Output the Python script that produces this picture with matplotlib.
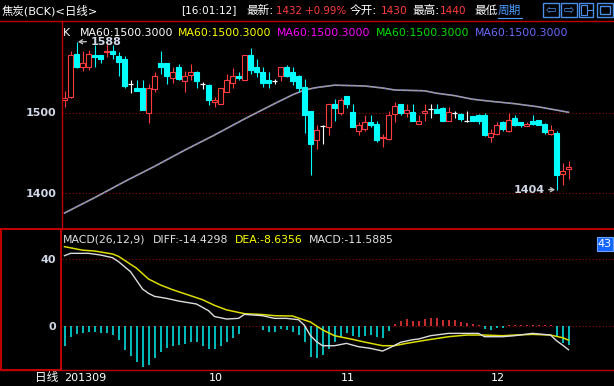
import numpy as np
import matplotlib
matplotlib.use('Agg')
import matplotlib.pyplot as plt
from matplotlib.patches import Rectangle

W, H = 614, 386

# daily candles, index 0 = first day shown (2013-09)
opens = [1516, 1519, 1573, 1557, 1557, 1571, 1571, 1575, 1577, 1570,
         1567, 1536, 1531, 1530, 1500, 1529, 1561, 1561, 1543, 1556,
         1539, 1547, 1550, 1536, 1534, 1513, 1511, 1526, 1537, 1546,
         1540, 1571, 1556, 1550, 1540, 1539, 1545, 1556, 1550, 1546,
         1532, 1502, 1466, 1483, 1482, 1510, 1500, 1520, 1500, 1477,
         1479, 1488, 1486, 1468, 1467, 1498, 1510, 1500, 1501, 1486,
         1500, 1504, 1504, 1506, 1490, 1500, 1498, 1490, 1496, 1497,
         1497, 1469, 1473, 1488, 1477, 1493, 1488, 1483, 1490, 1491,
         1486, 1473, 1474, 1423, 1430]
highs = [1527, 1576, 1588, 1577, 1578, 1584, 1572, 1585, 1584, 1575,
         1570, 1540, 1540, 1540, 1536, 1550, 1576, 1561, 1556, 1560,
         1552, 1560, 1552, 1538, 1535, 1519, 1531, 1548, 1555, 1550,
         1572, 1580, 1566, 1556, 1550, 1542, 1557, 1559, 1556, 1547,
         1542, 1502, 1484, 1484, 1510, 1517, 1518, 1521, 1511, 1488,
         1497, 1497, 1490, 1473, 1502, 1513, 1511, 1511, 1511, 1497,
         1510, 1511, 1510, 1507, 1507, 1502, 1500, 1502, 1496, 1498,
         1500, 1479, 1488, 1490, 1500, 1497, 1488, 1488, 1497, 1491,
         1487, 1484, 1477, 1437, 1440]
lows = [1507, 1518, 1555, 1552, 1553, 1556, 1561, 1569, 1567, 1546,
        1530, 1524, 1527, 1503, 1487, 1526, 1548, 1536, 1537, 1540,
        1526, 1540, 1531, 1529, 1509, 1507, 1510, 1525, 1531, 1540,
        1540, 1548, 1544, 1532, 1531, 1535, 1539, 1544, 1534, 1526,
        1474, 1422, 1455, 1461, 1472, 1490, 1497, 1506, 1482, 1472,
        1477, 1482, 1463, 1457, 1466, 1488, 1497, 1495, 1489, 1486,
        1489, 1493, 1499, 1489, 1489, 1493, 1489, 1488, 1489, 1486,
        1471, 1463, 1472, 1477, 1476, 1483, 1482, 1483, 1484, 1485,
        1473, 1472, 1404, 1410, 1417]
closes = [1518, 1571, 1557, 1561, 1573, 1569, 1567, 1577, 1573, 1563,
          1533, 1536, 1527, 1503, 1530, 1546, 1557, 1546, 1550, 1542,
          1546, 1550, 1539, 1536, 1516, 1516, 1530, 1541, 1546, 1543,
          1571, 1553, 1550, 1537, 1537, 1539, 1556, 1546, 1539, 1531,
          1497, 1461, 1478, 1483, 1510, 1506, 1516, 1510, 1482, 1484,
          1488, 1485, 1466, 1470, 1497, 1508, 1500, 1503, 1490, 1490,
          1502, 1504, 1500, 1489, 1500, 1500, 1492, 1490, 1490, 1489,
          1472, 1475, 1484, 1479, 1491, 1485, 1485, 1486, 1486, 1485,
          1476, 1478, 1422, 1427, 1432]

# MA60 at a few days
ma_idx = [0, 5, 10, 15, 20, 25, 30, 35, 38, 40, 42, 45, 50, 53, 55,
          60, 62, 65, 68, 71, 75, 79, 82, 84]
ma_val = [1375, 1394, 1414, 1433, 1453, 1472, 1492, 1511, 1522, 1528,
          1531, 1534, 1533, 1530.5, 1528, 1527, 1524, 1521, 1516.5, 1514,
          1511, 1507, 1503, 1500.3]

# MACD panel
macd_bar = [-12, -6.6, -5.2, -4.6, -4, -3.6, -4.6, -4.6, -5.6, -8.6,
            -14.6, -18, -21.6, -24.6, -23.6, -19.6, -15.6, -13.6, -12, -11.6,
            -11.2, -9.6, -10, -12, -14, -14, -12, -9.6, -7.2, -5.2,
            -0.3, -0.4, -0.3, -2.6, -4, -3.6, -2, -2.6, -3.6, -5.6,
            -9.6, -18.6, -19.2, -17.6, -14, -10, -6.6, -4.6, -6, -6.6,
            -6, -5.6, -6.6, -7.2, -3.2, 0.8, 2.8, 4, 2.8, 2.8,
            4, 4.8, 4.8, 3.4, 3.4, 3.4, 2, 1.4, 1, 0.6,
            -2, -2.6, -1.6, -1.6, 0.4, 0.4, 0.6, 0.6, 0.4, 0.6,
            0.4, 0.2, -6.6, -10.6, -11.59]
diff_idx = [0, 1, 3, 4, 6, 8, 9, 11, 13, 14, 15, 17, 19, 22, 24, 25, 27, 29,
            30, 33, 35, 37, 39, 40, 41, 42, 43, 45, 47, 49, 51, 53, 54, 56,
            58, 59, 61, 64, 67, 69, 70, 73, 75, 78, 81, 82, 83, 84]
diff_val = [42, 43.4, 43.4, 43.4, 42.4, 40.8, 38.4, 32.4, 22, 19.4, 17.6, 16.4,
            14.8, 13, 9, 5.5, 4, 4.4, 6.8, 6, 4.4, 4.4, 3.6, 0.2, -6, -9.5,
            -12, -12, -10.6, -12.6, -13.6, -15.2, -13.6, -10, -8.4, -8, -6,
            -4.6, -4.6, -4.6, -6.6, -6.6, -6, -4.6, -5.6, -9, -11.6, -14.43]
dea_idx = [0, 3, 5, 8, 9, 12, 14, 16, 18, 20, 23, 25, 27, 30, 33, 35, 38, 39,
           41, 43, 45, 48, 50, 53, 55, 57, 60, 64, 67, 70, 73, 75, 78, 81, 83, 84]
dea_val = [47.4, 45.3, 44.8, 43, 41.6, 34.5, 28, 24.4, 21.6, 19.2, 15.6, 12.2,
           9.5, 7.2, 6.7, 6, 5.8, 4.6, 2.2, -2.5, -6, -8.2, -9.8, -12, -12,
           -10.6, -8.8, -6.6, -5.6, -5.6, -6, -5.6, -5.2, -5.6, -7.2, -8.64]

month_pos = [0, 24, 46, 71]
month_labels = ['201309', '10', '11', '12']

UP = '#ff3c3c'
DOWN = '#00ffff'
FLAT = '#ffffff'
FRAME = '#c00000'
GRID = '#900000'
LABEL = '#d0d8e8'
CJK = ['DejaVu Sans', 'Noto Sans CJK SC']

plt.rcParams['font.family'] = CJK

fig = plt.figure(figsize=(W / 100, H / 100), dpi=100, facecolor='black')


def box(x0, y0, x1, y1):
    # pixel box (top-left origin) -> figure rect
    return [x0 / W, 1 - y1 / H, (x1 - x0) / W, (y1 - y0) / H]


# ---- candle panel
ax_k = fig.add_axes(box(62, 21, 614, 228))
ax_k.set_facecolor('black')
n = len(opens)
x = np.arange(n)
o = np.array(opens, float)
c = np.array(closes, float)
ax_k.set_xlim((62 - 64.5) / 6, (614 - 64.5) / 6)
ax_k.set_ylim(1500 - (228 - 112.5) / 0.804, 1500 + (112.5 - 21) / 0.804)

cols = [UP if cc > oo else (DOWN if cc < oo else FLAT) for oo, cc in zip(opens, closes)]
ax_k.vlines(x, lows, highs, colors=cols, lw=0.8, zorder=3)
body = c != o
ax_k.bar(x[body], np.abs(c - o)[body], bottom=np.minimum(o, c)[body], width=0.78,
         color=['black' if cols[i] == UP else cols[i] for i in x[body]],
         edgecolor=[cols[i] for i in x[body]], linewidth=0.8, zorder=4)
flat = ~body
ax_k.hlines(o[flat], x[flat] - 0.4, x[flat] + 0.4, colors=FLAT, lw=0.9, zorder=4)

ax_k.plot(ma_idx, ma_val, color='#a0a0a0', lw=1.2, zorder=2)
ax_k.plot(ma_idx, ma_val, color='#7474e0', lw=1.0, ls=(0, (1, 3)), zorder=2)

for lv in (1400, 1500):
    ax_k.axhline(lv, color=GRID, lw=0.8, ls=(0, (1, 2)), zorder=1)

ax_k.set_yticks([1400, 1500])
ax_k.set_yticklabels(['1400', '1500'], color=LABEL, fontsize=8, fontweight='bold')
ax_k.tick_params(axis='y', length=0, pad=4)
ax_k.set_xticks([])
for s in ax_k.spines.values():
    s.set_visible(False)

i_hi = int(np.argmax(highs))
i_lo = int(np.argmin(lows))
arrow = dict(arrowstyle='->,head_length=0.3,head_width=0.18', color='#bfbfbf', lw=1,
             shrinkA=1, shrinkB=1)
ax_k.annotate('%d' % highs[i_hi], xy=(i_hi, highs[i_hi]), xytext=(14, 0),
              textcoords='offset pixels', ha='left', va='center', color=LABEL,
              fontsize=8, fontweight='bold', arrowprops=arrow)
ax_k.annotate('%d' % lows[i_lo], xy=(i_lo, lows[i_lo]), xytext=(-12, 0),
              textcoords='offset pixels', ha='right', va='center', color=LABEL,
              fontsize=8, fontweight='bold', arrowprops=arrow)

# ---- MACD panel
ax_m = fig.add_axes(box(62, 230, 614, 369))
ax_m.set_facecolor('black')
ax_m.set_xlim(ax_k.get_xlim())
ax_m.set_ylim(-(369 - 325.7) / 1.6675, (325.7 - 230) / 1.6675)
bar_cols = [UP if v > 0 else '#00f0f0' for v in macd_bar]
ax_m.vlines(x, 0, macd_bar, colors=bar_cols, lw=1.1, zorder=2)
for lv in (0, 40):
    ax_m.axhline(lv, color=GRID, lw=0.8, ls=(0, (1, 2)), zorder=1)
ax_m.plot(dea_idx, dea_val, color='#dcdc00', lw=1.1, zorder=3)
ax_m.plot(diff_idx, diff_val, color='#dcdcdc', lw=1.0, zorder=3)
ax_m.set_yticks([0, 40])
ax_m.set_yticklabels(['0', '40'], color=LABEL, fontsize=8, fontweight='bold')
ax_m.tick_params(axis='y', length=0, pad=4)
ax_m.set_xticks(month_pos)
ax_m.set_xticklabels(month_labels, color='white', fontsize=8, ha='left')
ax_m.tick_params(axis='x', length=0, pad=3)
for s in ax_m.spines.values():
    s.set_visible(False)

# ---- overlay: frame, header, legends
ov = fig.add_axes([0, 0, 1, 1], facecolor='none', zorder=10)
ov.set_xlim(0, W)
ov.set_ylim(H, 0)
ov.axis('off')

ov.plot([0, W], [20.5, 20.5], color=FRAME, lw=1)
ov.plot([61.5, 61.5], [20.5, 229], color=FRAME, lw=1)
ov.plot([0, W], [228.8, 228.8], color=FRAME, lw=1.4)
ov.plot([0, W], [369.5, 369.5], color=FRAME, lw=1)
ov.add_patch(Rectangle((0.8, 229), 60, 140.5, fill=False, edgecolor=FRAME, lw=1.4))


def put(xp, yp, s, col='white', size=8, **kw):
    ov.text(xp, yp, s, color=col, fontsize=size, ha='left', va='center', **kw)


hy = 10.5
put(2, hy, '焦炭(BCK)<日线>', size=8.2)
put(181, hy, '[16:01:12]', size=7.6)
put(246, hy, '最新:', size=8.4)
put(276, hy, '1432 +0.99%', UP, size=7.4)
put(350, hy, '今开:', size=8.4)
put(381, hy, '1430', UP, size=7.6)
put(412, hy, '最高:', size=8.4)
put(440, hy, '1440', UP, size=7.6)
put(474, hy, '最低', size=8.4)
put(498, hy, '周期', '#4a9cff', size=8.4)
ov.plot([498, 522], [18, 18], color='#4a9cff', lw=0.8)

icon = '#4a8ee8'
for x0, w in ((543, 16), (561, 16), (579, 14), (597, 16)):
    ov.add_patch(Rectangle((x0, 3), w, 14, fill=False, edgecolor=icon, lw=1))
ov.text(551, 10.5, '⇦', color=icon, fontsize=9, ha='center', va='center')
ov.text(569, 10.5, '⇨', color=icon, fontsize=9, ha='center', va='center')
ov.add_patch(Rectangle((581, 5), 6, 10, fill=False, edgecolor=icon, lw=0.8))
ov.plot([587, 592], [10, 10], color=icon, lw=0.8)
ov.add_patch(Rectangle((600, 6), 10, 8, fill=False, edgecolor=icon, lw=1))

ly = 33
put(63, ly, 'K', size=7.8)
for xp, col in ((80, 'white'), (178, '#ffff00'), (277, '#ff00ff'),
                (376, '#00e000'), (475, '#6a6aff')):
    put(xp, ly, 'MA60:%.4f' % ma_val[-1], col, size=7.8)

my = 240
put(63, my, 'MACD(26,12,9)', '#e0e0e0', size=7.8)
put(153, my, 'DIFF:%.4f' % -14.4298, '#e0e0e0', size=7.8)
put(235, my, 'DEA:%.4f' % -8.6356, '#ffff00', size=7.8)
put(309, my, 'MACD:%.4f' % -11.5885, '#e0e0e0', size=7.8)

ov.add_patch(Rectangle((597, 237), 16, 14, facecolor='#1464ff', edgecolor='#6aa0ff', lw=0.8))
ov.text(605, 244, '43', color='white', fontsize=8, ha='center', va='center')

put(35, 378, '日线', size=8.4)

fig.savefig('out.png', dpi=100, facecolor='black')
